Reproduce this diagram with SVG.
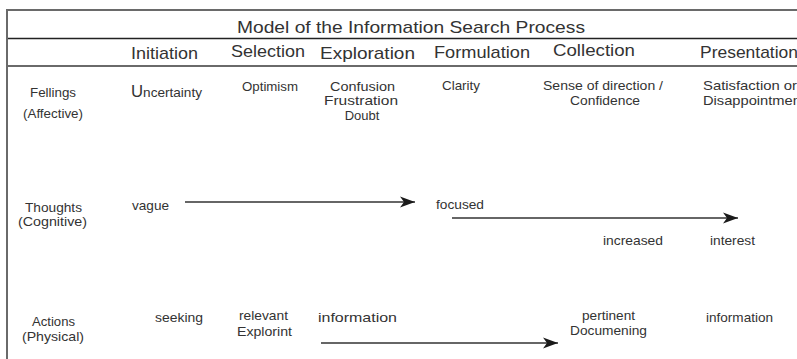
<svg xmlns="http://www.w3.org/2000/svg" width="797" height="359" viewBox="0 0 797 359">
<style>
text{font-family:"Liberation Sans",Arial,sans-serif;fill:#333}
.t{font-size:17px}
.h{font-size:17px}
.s{font-size:13px}
.m{text-anchor:middle}
.rule{stroke:#6a6a6a;stroke-width:2;fill:none}
.conn{stroke:#333;stroke-width:1.5;fill:none}
</style>
<defs>
<marker id="ah" markerUnits="userSpaceOnUse" markerWidth="16" markerHeight="12" refX="15" refY="6" orient="auto">
<path d="M0,0.5 L15,6 L0,11.5 L4,6 Z" fill="#1a1a1a"/>
</marker>
</defs>
<rect width="797" height="359" fill="#fff"/>
<g id="frame">
<line class="rule" x1="7" y1="10" x2="797" y2="10"/>
<line x1="7" y1="38.5" x2="797" y2="38.5" stroke="#222" stroke-width="1.5"/>
<line class="rule" x1="7" y1="66" x2="797" y2="66"/>
<line class="rule" x1="7" y1="9" x2="7" y2="359"/>
</g>
<g id="title"><text class="t" x="237" y="33" textLength="348" lengthAdjust="spacingAndGlyphs">Model of the Information Search Process</text></g>
<g id="stages">
<text class="h" x="131" y="59" textLength="67" lengthAdjust="spacingAndGlyphs">Initiation</text>
<text class="h" x="231" y="57" textLength="74" lengthAdjust="spacingAndGlyphs">Selection</text>
<text class="h" x="320" y="59" textLength="95" lengthAdjust="spacingAndGlyphs">Exploration</text>
<text class="h" x="434" y="58" textLength="96" lengthAdjust="spacingAndGlyphs">Formulation</text>
<text class="h" x="553" y="56" textLength="82" lengthAdjust="spacingAndGlyphs">Collection</text>
<text class="h" x="700" y="58" textLength="98" lengthAdjust="spacingAndGlyphs">Presentation</text>
</g>
<g id="feelings">
<text class="s" x="30" y="97" textLength="46" lengthAdjust="spacingAndGlyphs">Fellings</text>
<text class="s" x="23" y="118" textLength="60" lengthAdjust="spacingAndGlyphs">(Affective)</text>
<text x="131" y="97" font-size="13" textLength="71" lengthAdjust="spacingAndGlyphs"><tspan font-size="16">U</tspan>ncertainty</text>
<text class="s" x="242" y="91" textLength="56" lengthAdjust="spacingAndGlyphs">Optimism</text>
<text class="s" x="330" y="91" textLength="65" lengthAdjust="spacingAndGlyphs">Confusion</text>
<text class="s" x="324" y="105" textLength="74" lengthAdjust="spacingAndGlyphs">Frustration</text>
<text class="s m" x="362" y="120">Doubt</text>
<text class="s" x="442" y="90" textLength="38" lengthAdjust="spacingAndGlyphs">Clarity</text>
<text class="s" x="543" y="90" textLength="120" lengthAdjust="spacingAndGlyphs">Sense of direction /</text>
<text class="s" x="570" y="105" textLength="70" lengthAdjust="spacingAndGlyphs">Confidence</text>
<text class="s" x="703" y="90" textLength="94" lengthAdjust="spacingAndGlyphs">Satisfaction or</text>
<text class="s" x="703" y="105" textLength="102" lengthAdjust="spacingAndGlyphs">Disappointment</text>
</g>
<g id="thoughts">
<text class="s" x="25" y="212" textLength="57" lengthAdjust="spacingAndGlyphs">Thoughts</text>
<text class="s" x="18" y="226" textLength="69" lengthAdjust="spacingAndGlyphs">(Cognitive)</text>
<text class="s" x="132" y="210" textLength="37" lengthAdjust="spacingAndGlyphs">vague</text>
<text class="s" x="436" y="209" textLength="48" lengthAdjust="spacingAndGlyphs">focused</text>
<text class="s" x="603" y="245" textLength="60" lengthAdjust="spacingAndGlyphs">increased</text>
<text class="s" x="710" y="245" textLength="45" lengthAdjust="spacingAndGlyphs">interest</text>
</g>
<g id="actions">
<text class="s" x="32" y="326" textLength="43" lengthAdjust="spacingAndGlyphs">Actions</text>
<text class="s" x="22" y="341" textLength="62" lengthAdjust="spacingAndGlyphs">(Physical)</text>
<text class="s" x="155" y="322" textLength="48" lengthAdjust="spacingAndGlyphs">seeking</text>
<text class="s" x="239" y="320" textLength="49" lengthAdjust="spacingAndGlyphs">relevant</text>
<text class="s" x="237" y="336" textLength="55" lengthAdjust="spacingAndGlyphs">Explorint</text>
<text class="s" x="318" y="322" textLength="79" lengthAdjust="spacingAndGlyphs">information</text>
<text class="s" x="582" y="320" textLength="53" lengthAdjust="spacingAndGlyphs">pertinent</text>
<text class="s" x="570" y="335" textLength="77" lengthAdjust="spacingAndGlyphs">Documening</text>
<text class="s" x="706" y="322" textLength="67" lengthAdjust="spacingAndGlyphs">information</text>
</g>
<g id="connectors">
<line class="conn" x1="185" y1="202" x2="415" y2="202" marker-end="url(#ah)"/>
<line class="conn" x1="452" y1="218" x2="738" y2="218" marker-end="url(#ah)"/>
<line class="conn" x1="321" y1="343" x2="558" y2="343" marker-end="url(#ah)"/>
</g>
</svg>
